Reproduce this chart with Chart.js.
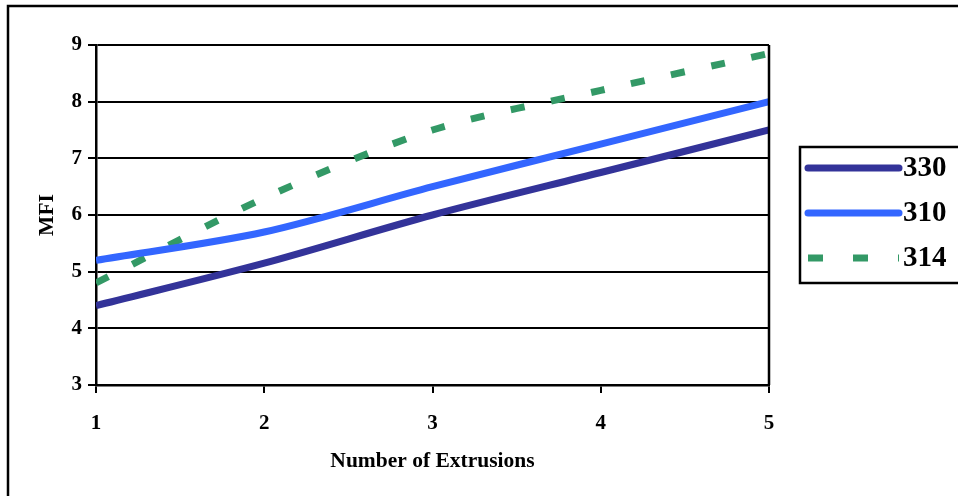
<!DOCTYPE html>
<html>
<head>
<meta charset="utf-8">
<script src="https://cdn.jsdelivr.net/npm/chart.js@4"></script>
<style>
  html, body { margin: 0; padding: 0; background: #fff; }
  #wrap { width: 958px; height: 496px; position: relative; }
</style>
</head>
<body>
<div id="wrap"><canvas id="c" width="958" height="496"></canvas></div>
<script>
// Melt flow index after repeated extrusions, per grade
const extrusions = ['1', '2', '3', '4', '5'];
const mfi330 = [4.4, 5.15, 6.0, 6.75, 7.5];
const mfi310 = [5.2, 5.7, 6.5, 7.25, 8.0];
const mfi314 = [4.8, 6.3, 7.5, 8.2, 8.85];
const seriesNames = ['330', '310', '314'];
const seriesColors = ['#333399', '#3366FF', '#339966'];

const serif = "'Liberation Serif', 'Times New Roman', serif";

// Frame around the whole figure, right edge of the plot, and the boxed legend
const framePlugin = {
  id: 'frame',
  beforeDraw(chart) {
    const ctx = chart.ctx;
    ctx.save();
    ctx.fillStyle = '#fff';
    ctx.fillRect(0, 0, chart.width, chart.height);
    ctx.strokeStyle = '#000';
    ctx.lineWidth = 2.5;
    ctx.beginPath();
    ctx.moveTo(8, chart.height + 5);
    ctx.lineTo(8, 6);
    ctx.lineTo(chart.width + 5, 6);
    ctx.stroke();
    ctx.restore();
  },
  afterDraw(chart) {
    const ctx = chart.ctx;
    const a = chart.chartArea;
    ctx.save();
    ctx.strokeStyle = '#000';
    ctx.lineWidth = 2.5;
    ctx.beginPath();
    ctx.moveTo(a.right, a.top);
    ctx.lineTo(a.right, a.bottom);
    ctx.stroke();

    // legend box
    const bx = 800, by = 147, bh = 136;
    ctx.lineWidth = 2.5;
    ctx.strokeRect(bx, by, chart.width - bx + 10, bh);
    const rows = [168, 213, 258];
    chart.data.datasets.forEach((ds, i) => {
      const y = rows[i];
      ctx.strokeStyle = ds.borderColor;
      ctx.lineWidth = 7;
      if (ds.borderDash && ds.borderDash.length) {
        ctx.setLineDash([15, 30]);
        ctx.lineCap = 'butt';
      } else {
        ctx.setLineDash([]);
        ctx.lineCap = 'round';
      }
      ctx.beginPath();
      ctx.moveTo(808, y);
      ctx.lineTo(899, y);
      ctx.stroke();
      ctx.setLineDash([]);
      ctx.fillStyle = '#000';
      ctx.font = 'bold 29px ' + serif;
      ctx.textBaseline = 'middle';
      ctx.textAlign = 'left';
      ctx.fillText(ds.label, 903, y + 1);
    });
    ctx.restore();
  }
};

new Chart(document.getElementById('c'), {
  type: 'line',
  data: {
    labels: extrusions,
    datasets: [
      { label: seriesNames[0], data: mfi330, borderColor: seriesColors[0], borderWidth: 7 },
      { label: seriesNames[1], data: mfi310, borderColor: seriesColors[1], borderWidth: 7 },
      { label: seriesNames[2], data: mfi314, borderColor: seriesColors[2], borderWidth: 7,
        borderDash: [14, 27], borderCapStyle: 'butt' }
    ]
  },
  options: {
    responsive: false,
    animation: false,
    devicePixelRatio: 1,
    layout: { padding: { top: 45, right: 189, left: 0, bottom: 0 } },
    elements: {
      point: { radius: 0, hoverRadius: 0 },
      line: { tension: 0.3, fill: false, borderCapStyle: 'butt' }
    },
    datasets: { line: { clip: 0 } },
    plugins: {
      legend: { display: false },
      tooltip: { enabled: false }
    },
    scales: {
      x: {
        type: 'category',
        offset: false,
        afterFit: s => { s.height = 111; },
        border: { display: true, color: '#000', width: 2.5 },
        grid: {
          display: true,
          drawOnChartArea: false,
          color: '#000',
          tickColor: '#000',
          tickLength: 8,
          lineWidth: 2
        },
        ticks: {
          color: '#000',
          font: { family: serif, size: 21, weight: 'bold' },
          padding: 18,
          maxRotation: 0
        },
        title: {
          display: true,
          text: 'Number of Extrusions',
          color: '#000',
          font: { family: serif, size: 21.5, weight: 'bold' },
          padding: { top: 0, bottom: 22 }
        }
      },
      y: {
        min: 3,
        max: 9,
        afterFit: s => { s.width = 96; },
        border: { display: true, color: '#000', width: 2.5 },
        grid: {
          color: '#000',
          tickColor: '#000',
          tickLength: 8,
          lineWidth: 2
        },
        ticks: {
          stepSize: 1,
          color: '#000',
          font: { family: serif, size: 21, weight: 'bold' },
          padding: 6
        },
        title: {
          display: true,
          text: 'MFI',
          color: '#000',
          font: { family: serif, size: 21.5, weight: 'bold' },
          padding: { top: 35, bottom: 0 }
        }
      }
    }
  },
  plugins: [framePlugin]
});
</script>
</body>
</html>
